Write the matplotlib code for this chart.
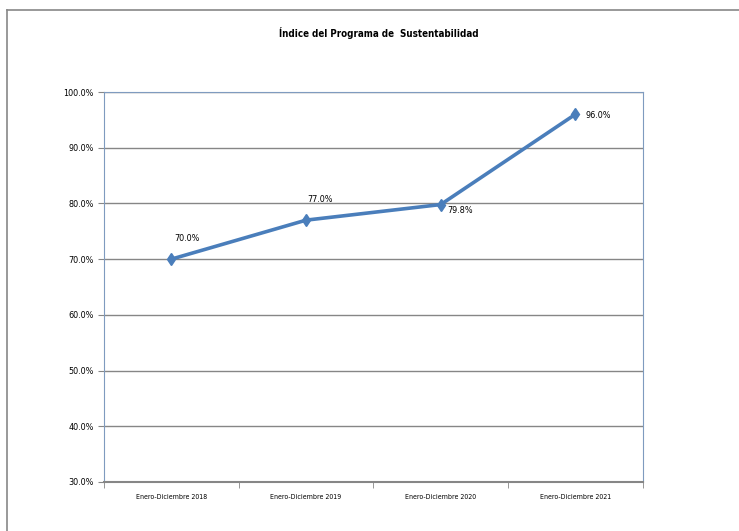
import numpy as np
import matplotlib.pyplot as plt
from matplotlib.lines import Line2D
from matplotlib.ticker import FuncFormatter

plt.rcParams['font.family'] = ['DejaVu Sans']
plt.rcParams['font.stretch'] = 'condensed'

categories = ['Enero-Diciembre 2018', 'Enero-Diciembre 2019',
              'Enero-Diciembre 2020', 'Enero-Diciembre 2021']
values = [70.0, 77.0, 79.8, 96.0]
label_offsets = [(11, 15), (10, 15), (5, -4), (7, -1)]
label_ha = ['center', 'center', 'left', 'left']

fig = plt.figure(figsize=(7.39, 5.31), dpi=100)
ax = fig.add_axes([0.1407, 0.0923, 0.729, 0.7344])

x = np.arange(len(categories))
ax.plot(x, values, color='#4A7EBB', lw=2.6, marker='d', ms=6, zorder=3)

for xi, v, off, ha in zip(x, values, label_offsets, label_ha):
    ax.annotate('{0:.1f}%'.format(v), (xi, v), xytext=off, textcoords='offset points',
                ha=ha, va='center', fontsize=6.5)

ax.set_xlim(-0.5, len(categories) - 0.5)
ax.set_ylim(30, 100)
ax.set_yticks(np.arange(30, 101, 10))
ax.yaxis.set_major_formatter(FuncFormatter(lambda v, p: '{0:.1f}%'.format(v)))
ax.set_xticks(x)
ax.set_xticklabels(categories, fontsize=5)
ax.set_xticks(np.arange(-0.5, len(categories), 1), minor=True)
ax.tick_params(axis='x', which='major', length=0, pad=9)
ax.tick_params(axis='x', which='minor', length=4, color='#868686', direction='out')
ax.tick_params(axis='y', labelsize=6.5, length=4, color='#868686')

ax.grid(axis='y', color='#868686', lw=1)
for side in ['left', 'right', 'top']:
    ax.spines[side].set_color('#7F9BBF')
ax.spines['bottom'].set_color('#868686')
ax.spines['bottom'].set_linewidth(1.5)

fig.text(0.512, 0.938, 'Índice del Programa de  Sustentabilidad', ha='center', va='center',
         fontsize=7, fontweight='bold')

fig.add_artist(Line2D([0.0095, 1.0], [0.981, 0.981], color='#888888', lw=1.2))
fig.add_artist(Line2D([0.0095, 0.0095], [0.0, 0.981], color='#888888', lw=1.2))

plt.savefig('out.png')
